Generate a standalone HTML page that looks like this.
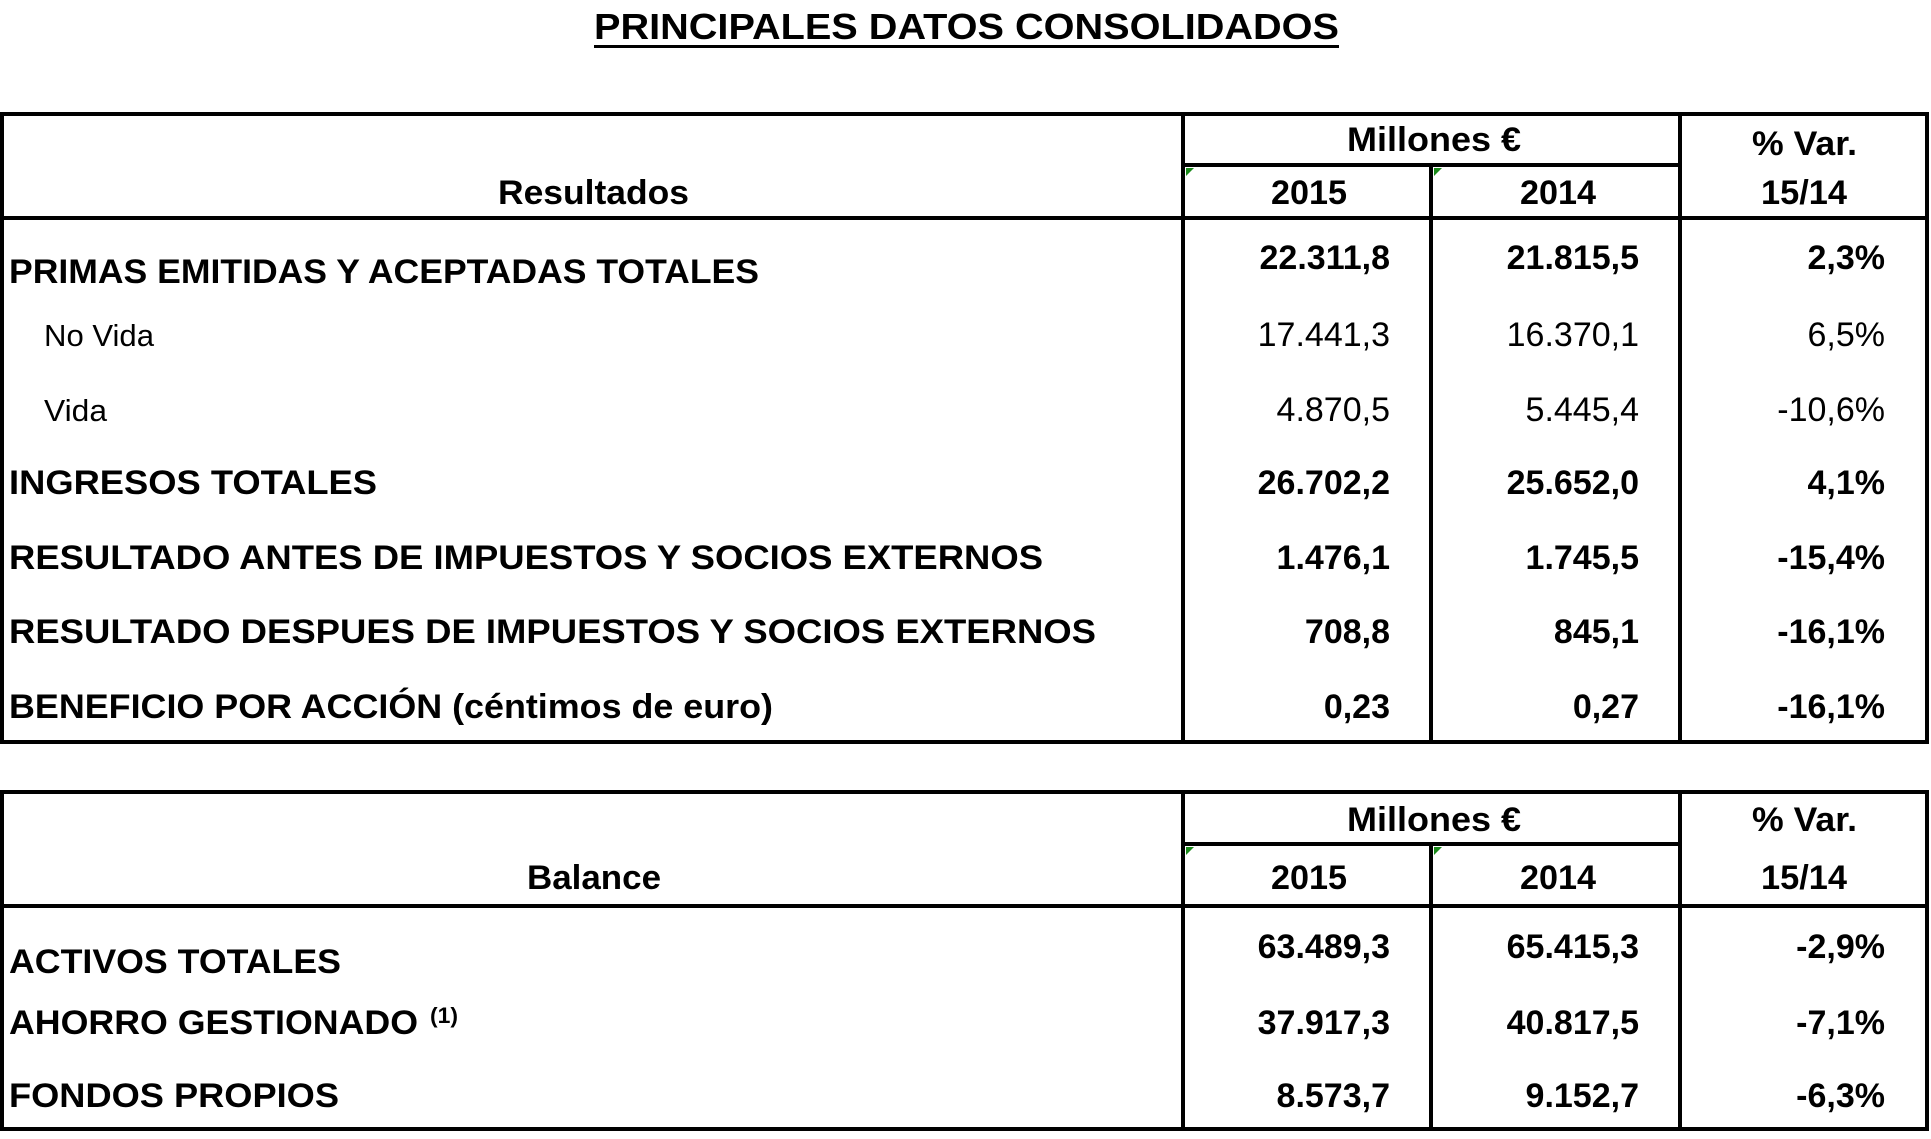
<!DOCTYPE html>
<html><head><meta charset="utf-8"><style>
html,body{margin:0;padding:0;background:#fff;}
svg{display:block;}
text{font-family:"Liberation Sans",Arial,sans-serif;fill:#000;}
.b{font-weight:bold;}
</style></head><body>
<svg width="1931" height="1139" viewBox="0 0 1931 1139" xmlns="http://www.w3.org/2000/svg">
<!-- Title -->
<text class="b" x="594" y="39" font-size="36" textLength="745" lengthAdjust="spacingAndGlyphs">PRINCIPALES DATOS CONSOLIDADOS</text>
<rect x="594" y="45" width="745" height="3" fill="#000"/>

<g fill="none" stroke="#000" stroke-width="4">
<!-- table 1 -->
<rect x="2" y="114" width="1925" height="628"/>
<line x1="1183" y1="114" x2="1183" y2="742"/>
<line x1="1431" y1="165" x2="1431" y2="742"/>
<line x1="1680" y1="114" x2="1680" y2="742"/>
<line x1="1183" y1="165" x2="1680" y2="165"/>
<line x1="2" y1="218" x2="1927" y2="218"/>
<!-- table 2 -->
<rect x="2" y="792" width="1925" height="337"/>
<line x1="1183" y1="792" x2="1183" y2="1129"/>
<line x1="1431" y1="844" x2="1431" y2="1129"/>
<line x1="1680" y1="792" x2="1680" y2="1129"/>
<line x1="1183" y1="844" x2="1680" y2="844"/>
<line x1="2" y1="906" x2="1927" y2="906"/>
</g>
<g fill="#1a8a1a">
<polygon points="1186,168 1194,168 1186,176"/>
<polygon points="1434,168 1442,168 1434,176"/>
<polygon points="1186,847 1194,847 1186,855"/>
<polygon points="1434,847 1442,847 1434,855"/>
</g>

<g class="b" font-size="34">
<!-- header 1 -->
<text x="1347" y="151" textLength="174" lengthAdjust="spacingAndGlyphs">Millones €</text>
<text x="1752" y="155" textLength="105" lengthAdjust="spacingAndGlyphs">% Var.</text>
<text x="1761" y="204" textLength="86" lengthAdjust="spacingAndGlyphs">15/14</text>
<text x="1271" y="204" textLength="76" lengthAdjust="spacingAndGlyphs">2015</text>
<text x="1520" y="204" textLength="76" lengthAdjust="spacingAndGlyphs">2014</text>
<text x="498" y="204" textLength="191" lengthAdjust="spacingAndGlyphs">Resultados</text>
<!-- header 2 -->
<text x="1347" y="831" textLength="174" lengthAdjust="spacingAndGlyphs">Millones €</text>
<text x="1752" y="831" textLength="105" lengthAdjust="spacingAndGlyphs">% Var.</text>
<text x="1761" y="889" textLength="86" lengthAdjust="spacingAndGlyphs">15/14</text>
<text x="1271" y="889" textLength="76" lengthAdjust="spacingAndGlyphs">2015</text>
<text x="1520" y="889" textLength="76" lengthAdjust="spacingAndGlyphs">2014</text>
<text x="527" y="889" textLength="134" lengthAdjust="spacingAndGlyphs">Balance</text>

<!-- rows table 1 -->
<text x="9" y="283" textLength="750" lengthAdjust="spacingAndGlyphs">PRIMAS EMITIDAS Y ACEPTADAS TOTALES</text>
<text x="9" y="494" textLength="368" lengthAdjust="spacingAndGlyphs">INGRESOS TOTALES</text>
<text x="9" y="569" textLength="1034" lengthAdjust="spacingAndGlyphs">RESULTADO ANTES DE IMPUESTOS Y SOCIOS EXTERNOS</text>
<text x="9" y="643" textLength="1087" lengthAdjust="spacingAndGlyphs">RESULTADO DESPUES DE IMPUESTOS Y SOCIOS EXTERNOS</text>
<text x="9" y="718" textLength="764" lengthAdjust="spacingAndGlyphs">BENEFICIO POR ACCIÓN (céntimos de euro)</text>

<g text-anchor="end">
<text x="1390" y="269">22.311,8</text><text x="1639" y="269">21.815,5</text><text x="1885" y="269">2,3%</text>
<text x="1390" y="494">26.702,2</text><text x="1639" y="494">25.652,0</text><text x="1885" y="494">4,1%</text>
<text x="1390" y="569">1.476,1</text><text x="1639" y="569">1.745,5</text><text x="1885" y="569">-15,4%</text>
<text x="1390" y="643">708,8</text><text x="1639" y="643">845,1</text><text x="1885" y="643">-16,1%</text>
<text x="1390" y="718">0,23</text><text x="1639" y="718">0,27</text><text x="1885" y="718">-16,1%</text>
<text x="1390" y="958">63.489,3</text><text x="1639" y="958">65.415,3</text><text x="1885" y="958">-2,9%</text>
<text x="1390" y="1034">37.917,3</text><text x="1639" y="1034">40.817,5</text><text x="1885" y="1034">-7,1%</text>
<text x="1390" y="1107">8.573,7</text><text x="1639" y="1107">9.152,7</text><text x="1885" y="1107">-6,3%</text>
</g>

<!-- rows table 2 -->
<text x="9" y="973" textLength="332" lengthAdjust="spacingAndGlyphs">ACTIVOS TOTALES</text>
<text x="9" y="1034" textLength="409" lengthAdjust="spacingAndGlyphs">AHORRO GESTIONADO</text>
<text x="430" y="1023" font-size="22" textLength="28" lengthAdjust="spacingAndGlyphs">(1)</text>
<text x="9" y="1107" textLength="330" lengthAdjust="spacingAndGlyphs">FONDOS PROPIOS</text>
</g>

<g font-size="31">
<text x="44" y="346" textLength="110" lengthAdjust="spacingAndGlyphs">No Vida</text>
<text x="44" y="421" textLength="63" lengthAdjust="spacingAndGlyphs">Vida</text>
<g text-anchor="end" font-size="34">
<text x="1390" y="346">17.441,3</text><text x="1639" y="346">16.370,1</text><text x="1885" y="346">6,5%</text>
<text x="1390" y="421">4.870,5</text><text x="1639" y="421">5.445,4</text><text x="1885" y="421">-10,6%</text>
</g>
</g>
</svg>
</body></html>
